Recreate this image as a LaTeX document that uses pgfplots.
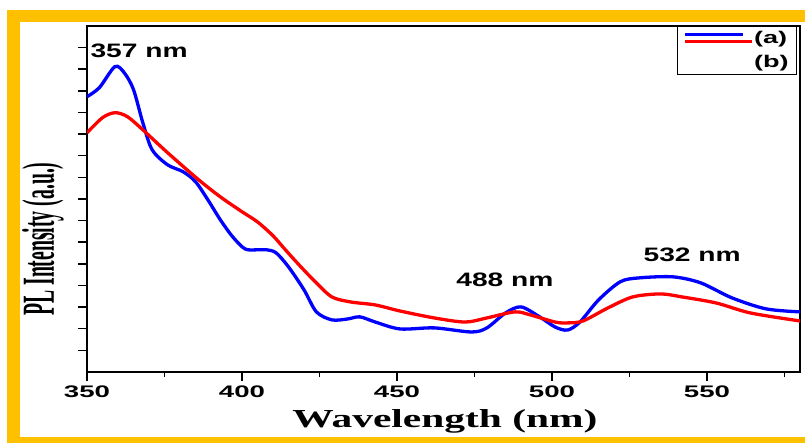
\documentclass[border=0pt]{standalone}
\usepackage{pgfplots}
\pgfplotsset{compat=1.18}
\usepackage{fontspec}
\setmainfont{Liberation Serif}
\newfontfamily\arialb{Liberation Sans}
\definecolor{frameorange}{RGB}{255,192,0}
\begin{document}
\begin{tikzpicture}[x=1bp,y=1bp]
\useasboundingbox (0,0) rectangle (805,443);
\fill[frameorange] (7,0) rectangle (805,433);
\fill[white] (20,6) rectangle (805,421);
\begin{axis}[at={(87bp,71bp)}, anchor=south west, scale only axis,
  width=713bp, height=346bp,
  xmin=350, xmax=580, ymin=0, ymax=16,
  xtick={350,400,450,500,550}, minor xtick={375,425,475,525,575},
  ytick={1,...,15}, yticklabels={},
  xtick pos=bottom, ytick pos=left, tick align=outside,
  major tick length=9bp, minor tick length=5bp,
  axis line style={line width=1.5bp},
  every tick/.style={black, line width=1.5bp},
  /pgf/number format/assume math mode=true,
  xticklabel style={font=\arialb\bfseries\fontsize{16.8}{17}\selectfont, xscale=1.65, yshift=-1bp},
  xlabel={\scalebox{1.6}[1]{\fontsize{26}{26}\selectfont\bfseries Wavelength (nm)}},
  xlabel style={at={(axis description cs:0.502,-0.144)}, anchor=center},
  ylabel={\scalebox{0.43}[1]{\fontsize{46}{46}\selectfont\bfseries PL Intensity (a.u.)}},
  ylabel style={at={(axis description cs:-0.062,0.384)}, anchor=center},
  legend style={at={(rel axis cs:0.9958,1)}, anchor=north east, draw=black, line width=0.8bp,
    font=\arialb\bfseries\fontsize{17}{17}\selectfont, inner xsep=6bp, inner ysep=3bp,
    row sep=6.5bp, /tikz/every even column/.append style={column sep=0bp}},
  legend cell align=left,
]
\addplot[blue, line width=3.3bp, smooth, tension=0.5,
  legend image code/.code={\draw[blue,line width=3bp] (0bp,4bp)--(58bp,4bp); \path[draw=none] (0bp,0bp)--(67bp,0bp);}]
coordinates {
(350,12.73)(354,13.15)(359,14.12)(362,13.84)(365,13.06)(368,11.53)(371,10.28)
(376,9.58)(381,9.26)(385,8.80)(389,7.96)(393,7.04)(397,6.25)(401,5.69)(405,5.65)
(408,5.65)(411,5.51)(415,4.86)(420,3.80)(424,2.78)(429,2.41)(434,2.45)(438,2.55)
(443,2.31)(451,1.99)(462,2.04)(474,1.85)(479,2.04)(485,2.73)(490,3.01)(496,2.55)
(501,2.08)(505,1.94)(509,2.31)(515,3.33)(522,4.17)(528,4.35)(539,4.40)(548,4.12)
(558,3.43)(569,2.92)(580,2.78)
};
\addlegendentry{\scalebox{1.6}[1]{(a)}}
\addplot[red, line width=3.3bp, smooth, tension=0.5,
  legend image code/.code={\draw[red,line width=3bp,overlay] (0bp,21bp)--(67bp,21bp); \path[draw=none] (0bp,0bp)--(67bp,0bp);}]
coordinates {
(350,11.06)(355,11.76)(359,11.99)(363,11.81)(368,11.20)(376,10.14)(386,8.89)
(393,8.10)(400,7.41)(405,6.94)(410,6.30)(414,5.65)(419,4.86)(424,4.12)(429,3.47)
(435,3.24)(443,3.10)(451,2.82)(462,2.50)(472,2.31)(479,2.50)(488,2.78)(493,2.64)
(501,2.31)(505,2.27)(510,2.36)(518,2.96)(526,3.47)(535,3.61)(542,3.47)(553,3.19)
(564,2.73)(580,2.36)
};
\addlegendentry{\scalebox{1.6}[1]{(b)}}
\node[font=\arialb\bfseries\fontsize{19.5}{20}\selectfont, xscale=1.45] at (axis cs:366.8,14.86) {357 nm};
\node[font=\arialb\bfseries\fontsize{19.5}{20}\selectfont, xscale=1.45] at (axis cs:484.8,4.26) {488 nm};
\node[font=\arialb\bfseries\fontsize{19.5}{20}\selectfont, xscale=1.45] at (axis cs:545.2,5.42) {532 nm};
\end{axis}
\end{tikzpicture}
\end{document}
